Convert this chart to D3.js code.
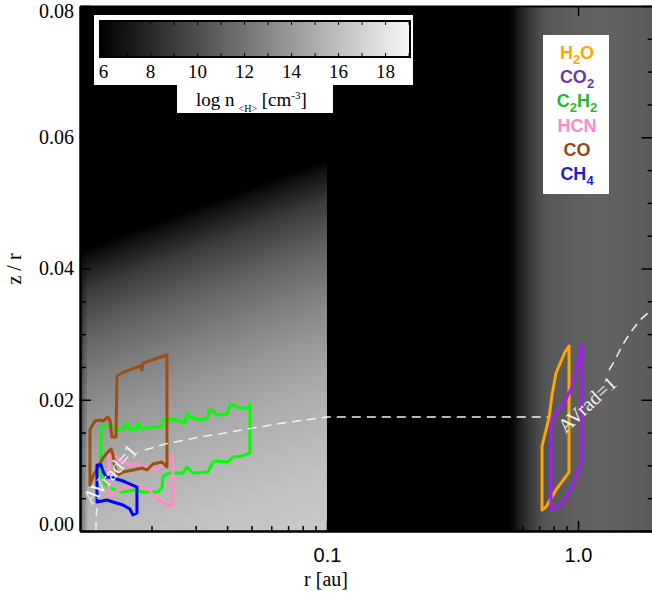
<!DOCTYPE html>
<html><head><meta charset="utf-8">
<script src="https://cdn.jsdelivr.net/npm/d3@7/dist/d3.min.js"></script>
<style>body{margin:0;background:#fff}svg{display:block}</style>
</head><body>
<svg id="c" width="652" height="599"></svg>
<script>
// ---------------- DATA ----------------
const rDomain = [0.01038, 2.0];
const zDomain = [0, 0.08];
const xMajorTicks = [0.1, 1.0];
const xMinorTicks = [0.02,0.03,0.04,0.05,0.06,0.07,0.08,0.09,0.2,0.3,0.4,0.5,0.6,0.7,0.8,0.9,2.0];
const yMajorTicks = [0, 0.02, 0.04, 0.06, 0.08];
const yMinorTicks = [0.005,0.01,0.015,0.025,0.03,0.035,0.045,0.05,0.055,0.065,0.07,0.075];
const cbarDomain = [5.87, 19.06];
const cbarTicks = [6, 8, 10, 12, 14, 16, 18];
const cbarMinorTicks = [7, 9, 11, 13, 15, 17, 19];
const diskInnerRegionEdge = 0.1;   // r where the inner disk density map ends
const outerRegionStart = 0.5;      // r where the outer density map begins

const species = ["H2O", "CO2", "C2H2", "HCN", "CO", "CH4"];
const legendColors = ["#FFA500", "#6E3A98", "#2DB52D", "#FF88CC", "#8E4A12", "#1E1ECF"];
const lineColors   = ["#FFA500", "#A020F0", "#00FF00", "#FF8EC8", "#9C5010", "#0000FF"];

// emitting-region contours [r (au), z/r]
const contourH2O = [[0.9207,0.02819],[0.8874,0.02728],[0.8174,0.02408],[0.7878,0.02072],[0.7664,0.01722],[0.7188,0.01295],[0.7188,0.00320],[0.7455,0.00366],[0.8174,0.00625],[0.9207,0.00899]];
const contourCO2 = [[1.0373,0.02834],[1.0,0.02575],[0.9465,0.02194],[0.8711,0.01920],[0.8099,0.01768],[0.7805,0.01661],[0.7805,0.00320],[0.8174,0.00350],[0.8711,0.00427],[0.9465,0.00670],[1.0092,0.00930],[1.0373,0.01082]];
const contourC2H2 = [[0.01258,0.01585],[0.01304,0.01600],[0.01392,0.01585],[0.01471,0.01539],[0.01540,0.01554],[0.01597,0.01646],[0.01641,0.01539],[0.01750,0.01554],[0.01766,0.01646],[0.01832,0.01554],[0.01971,0.01585],[0.02201,0.01585],[0.02221,0.01691],[0.02326,0.01707],[0.02527,0.01691],[0.02718,0.01646],[0.02768,0.01798],[0.02846,0.01737],[0.03119,0.01691],[0.03357,0.01722],[0.03388,0.01844],[0.03482,0.01844],[0.03645,0.01768],[0.03996,0.01783],[0.04107,0.01920],[0.04222,0.01920],[0.04501,0.01874],[0.04843,0.01874],[0.04933,0.01935],[0.04933,0.01189],[0.04627,0.01143],[0.04222,0.01128],[0.04033,0.01051],[0.03645,0.01067],[0.03514,0.01051],[0.03357,0.00899],[0.02925,0.00884],[0.02768,0.00975],[0.02669,0.00884],[0.02369,0.00884],[0.02262,0.00853],[0.02221,0.00823],[0.02201,0.00655],[0.02122,0.00594],[0.01832,0.00594],[0.01718,0.00625],[0.01526,0.00594],[0.01431,0.00625],[0.01341,0.00670],[0.01281,0.00777],[0.01258,0.00884]];
const contourHCN = [[0.01354,0.01158],[0.01457,0.01128],[0.01526,0.01051],[0.01672,0.01006],[0.01750,0.01036],[0.01799,0.00975],[0.01918,0.00990],[0.02008,0.00945],[0.02122,0.00960],[0.02221,0.01006],[0.02305,0.01112],[0.02435,0.01143],[0.02435,0.00381],[0.02305,0.00396],[0.02161,0.00457],[0.02026,0.00549],[0.01971,0.00625],[0.01766,0.00686],[0.01568,0.00655],[0.01457,0.00610],[0.01354,0.00518]];
const contourCO = [[0.01137,0.00701],[0.01137,0.01539],[0.01158,0.01600],[0.01191,0.01676],[0.01246,0.01691],[0.01281,0.01676],[0.01341,0.01737],[0.01366,0.01691],[0.01392,0.01432],[0.01444,0.01432],[0.01457,0.02362],[0.01526,0.02408],[0.01799,0.02514],[0.01832,0.02453],[0.01849,0.02560],[0.02305,0.02682],[0.02305,0.00975],[0.02201,0.01051],[0.02026,0.01021],[0.01918,0.00930],[0.01832,0.00960],[0.01687,0.00930],[0.01540,0.00899],[0.01471,0.00853],[0.01431,0.00960],[0.01405,0.01158],[0.01379,0.01250],[0.01341,0.01204],[0.01281,0.01112],[0.01235,0.00990],[0.01180,0.00869]];
const contourCH4 = [[0.01213,0.01006],[0.01258,0.01006],[0.01281,0.00914],[0.01317,0.00823],[0.01405,0.00808],[0.01540,0.00762],[0.01612,0.00731],[0.01750,0.00670],[0.01750,0.00274],[0.01687,0.00244],[0.01641,0.00335],[0.01540,0.00396],[0.01405,0.00442],[0.01329,0.00472],[0.01213,0.00442]];

// AV_rad = 1 line, broken where it is labelled
const avSegment1 = [[0.01202,0],[0.01202,0.00198],[0.01213,0.00350]];
const avSegment2 = [[0.01883,0.01234],[0.02262,0.01326],[0.02718,0.01387],[0.03119,0.01432],[0.03924,0.01493],[0.05071,0.01570],[0.07121,0.01661],[0.1,0.01737],[0.7594,0.01737]];
const avSegment3 = [[1.329,0.02453],[1.404,0.02606],[1.497,0.02819],[1.611,0.03017],[1.766,0.03215],[1.900,0.03322],[2.0,0.03383]];
const avLabels = [{r:0.01366, z:0.00869, angle:-49}, {r:1.086, z:0.0193, angle:-43}];
const avLabelText = "AVrad=1";

// ---------------- DRAW ----------------
const serif = "'Liberation Serif','Times New Roman',serif";
const sans = "'Liberation Sans',Arial,sans-serif";
const svg = d3.select("#c");
const x = d3.scaleLog().domain(rDomain).range([80, 653.6]);
const y = d3.scaleLinear().domain(zDomain).range([531, 6]);
const [X0, X1] = x.range(), [Y0, Y1] = y.range();

const defs = svg.append("defs");
defs.append("clipPath").attr("id","plotclip").append("rect")
  .attr("x",X0).attr("y",Y1).attr("width",X1-X0).attr("height",Y0-Y1);

// inner disk gradient (perpendicular to the disk surface)
const gIn = defs.append("linearGradient").attr("id","gin").attr("gradientUnits","userSpaceOnUse")
  .attr("x1",86).attr("y1",248).attr("x2",86+0.348*340).attr("y2",248+0.9375*340);
[[0,"#000"],[0.03,"#111"],[0.12,"#3c3c3c"],[0.24,"#626262"],[0.36,"#7e7e7e"],[0.48,"#959595"],[0.6,"#a8a8a8"],[0.74,"#b7b7b7"],[0.88,"#c2c2c2"],[1,"#c8c8c8"]]
  .forEach(([o,c])=>gIn.append("stop").attr("offset",o).attr("stop-color",c));
const gEdge = defs.append("linearGradient").attr("id","gedge");
gEdge.append("stop").attr("offset",0).attr("stop-color","#000").attr("stop-opacity",0.45);
gEdge.append("stop").attr("offset",1).attr("stop-color","#000").attr("stop-opacity",0);
const gOut = defs.append("linearGradient").attr("id","gout");
[[0,"#000"],[0.05,"#000"],[0.116,"#1e1e1e"],[0.183,"#3a3a3a"],[0.249,"#4e4e4e"],[0.315,"#585858"],[0.448,"#5e5e5e"],[0.646,"#636363"],[0.78,"#606060"],[1,"#5a5a5a"]]
  .forEach(([o,c])=>gOut.append("stop").attr("offset",o).attr("stop-color",c));
const gBar = defs.append("linearGradient").attr("id","gbar");
gBar.append("stop").attr("offset",0).attr("stop-color","#000");
gBar.append("stop").attr("offset",1).attr("stop-color","#f8f8f8");

const plot = svg.append("g").attr("clip-path","url(#plotclip)");
plot.append("rect").attr("x",X0).attr("y",Y1).attr("width",X1-X0).attr("height",Y0-Y1).attr("fill","#000");
plot.append("rect").attr("x",X0).attr("y",Y1).attr("width",x(diskInnerRegionEdge)-X0).attr("height",Y0-Y1).attr("fill","url(#gin)");
plot.append("rect").attr("x",X0).attr("y",Y1).attr("width",8).attr("height",Y0-Y1).attr("fill","url(#gedge)");
plot.append("rect").attr("x",x(outerRegionStart)).attr("y",Y1).attr("width",X1-x(outerRegionStart)).attr("height",Y0-Y1).attr("fill","url(#gout)");

// contours
const line = d3.line().x(d=>x(d[0])).y(d=>y(d[1]));
const closed = d3.line().x(d=>x(d[0])).y(d=>y(d[1])).curve(d3.curveLinearClosed);
const contours = [contourH2O, contourCO2, contourC2H2, contourHCN, contourCO, contourCH4];
const drawOrder = [2, 3, 4, 5, 0, 1];
drawOrder.forEach(i => {
  plot.append("path").attr("d", closed(contours[i])).attr("fill","none")
    .attr("stroke", lineColors[i]).attr("stroke-width",3).attr("stroke-linejoin","round");
});

// AV line
[avSegment1, avSegment2, avSegment3].forEach(seg => {
  plot.append("path").attr("d", line(seg)).attr("fill","none").attr("stroke","#f4f4f4")
    .attr("stroke-width",1.5).attr("stroke-dasharray","9,6");
});
avLabels.forEach(l => {
  plot.append("text").attr("transform",`translate(${x(l.r)},${y(l.z)}) rotate(${l.angle})`)
    .attr("text-anchor","middle").attr("dominant-baseline","central")
    .style("font-family",serif).style("font-size","20px").attr("fill","#f4f4f4").text(avLabelText);
});

// axes
function styleAxis(g){ g.select(".domain").attr("stroke","#000").attr("stroke-width",2); g.selectAll(".tick line").attr("stroke","#000").attr("stroke-width",1.5); }
svg.append("g").attr("transform",`translate(${X0},0)`).call(d3.axisLeft(y).tickValues(yMinorTicks).tickSize(-6).tickSizeOuter(0).tickFormat("")).call(styleAxis);
svg.append("g").attr("transform",`translate(${X0},0)`).call(d3.axisLeft(y).tickValues(yMajorTicks).tickSize(-11).tickSizeOuter(0).tickFormat("")).call(styleAxis);
svg.append("g").attr("transform",`translate(${X1},0)`).call(d3.axisRight(y).tickValues(yMinorTicks).tickSize(-6).tickSizeOuter(0).tickFormat("")).call(styleAxis);
svg.append("g").attr("transform",`translate(${X1},0)`).call(d3.axisRight(y).tickValues(yMajorTicks).tickSize(-12).tickSizeOuter(0).tickFormat("")).call(styleAxis);
svg.append("g").attr("transform",`translate(0,${Y0})`).call(d3.axisBottom(x).tickValues(xMinorTicks).tickSize(-5).tickSizeOuter(0).tickFormat("")).call(styleAxis);
svg.append("g").attr("transform",`translate(0,${Y0})`).call(d3.axisBottom(x).tickValues(xMajorTicks).tickSize(-10).tickSizeOuter(0).tickFormat("")).call(styleAxis);
svg.append("g").attr("transform",`translate(0,${Y1})`).call(d3.axisTop(x).tickValues(xMajorTicks).tickSize(-10).tickSizeOuter(0).tickFormat("")).call(styleAxis);

const yLab = svg.append("g").attr("transform",`translate(${X0},0)`)
  .call(d3.axisLeft(y).tickValues(yMajorTicks).tickSize(0).tickPadding(6).tickFormat(d3.format(".2f")));
yLab.select(".domain").remove();
yLab.selectAll("text").style("font-family",serif).style("font-size","20px").attr("fill","#000")
  .attr("dy", d => d === 0.08 ? "0.55em" : (d === 0 ? "-0.05em" : "0.32em"));
const xLab = svg.append("g").attr("transform",`translate(0,${Y0})`)
  .call(d3.axisBottom(x).tickValues(xMajorTicks).tickSize(0).tickPadding(17).tickFormat(d3.format(".1f")));
xLab.select(".domain").remove();
xLab.selectAll("text").style("font-family",sans).style("font-size","20px").attr("fill","#000");

svg.append("text").attr("x",326).attr("y",586).attr("text-anchor","middle")
  .style("font-family",serif).style("font-size","20px").text("r [au]");
svg.append("text").attr("transform","translate(21,269) rotate(-90)").attr("text-anchor","middle")
  .style("font-family",serif).style("font-size","20px").text("z / r");

// colorbar
const cb = svg.append("g");
cb.append("rect").attr("x",94).attr("y",15).attr("width",319).attr("height",70).attr("fill","#fff");
cb.append("rect").attr("x",177).attr("y",84).attr("width",156).attr("height",29).attr("fill","#fff");
const cx = d3.scaleLinear().domain(cbarDomain).range([100,410]);
cb.append("rect").attr("x",100).attr("y",21).attr("width",310).attr("height",36).attr("fill","url(#gbar)")
  .attr("stroke","#000").attr("stroke-width",2);
cb.append("g").attr("transform","translate(0,21)").call(d3.axisTop(cx).tickValues(cbarMinorTicks.concat(cbarTicks)).tickSize(-4).tickSizeOuter(0).tickFormat(""))
  .call(g=>{g.select(".domain").remove(); g.selectAll("line").attr("stroke","#000");});
cb.append("g").attr("transform","translate(0,57)").call(d3.axisBottom(cx).tickValues(cbarMinorTicks.concat(cbarTicks)).tickSize(-4).tickSizeOuter(0).tickFormat(""))
  .call(g=>{g.select(".domain").remove(); g.selectAll("line").attr("stroke","#000");});
const cbl = cb.append("g").attr("transform","translate(0,62)").call(d3.axisBottom(cx).tickValues(cbarTicks).tickSize(0).tickPadding(2).tickFormat(d3.format("d")));
cbl.select(".domain").remove();
cbl.selectAll("text").style("font-family",serif).style("font-size","19px").attr("fill","#000");
const cbt = cb.append("text").attr("x",196).attr("y",106).style("font-family",serif).style("font-size","19px");
cbt.append("tspan").text("log n");
cbt.append("tspan").style("font-size","10px").attr("dx",4).attr("dy",6).text("<H>");
cbt.append("tspan").attr("dy",-6).text("\u00a0[cm");
cbt.append("tspan").style("font-size","11px").attr("dy",-7).text("-3");
cbt.append("tspan").attr("dy",7).text("]");

// legend
const lg = svg.append("g");
lg.append("rect").attr("x",543).attr("y",35).attr("width",66).attr("height",159).attr("fill","#fff");
species.forEach((s,i) => {
  const t = lg.append("text").attr("x",577).attr("y",59+i*24.2).attr("text-anchor","middle")
    .style("font-family",sans).style("font-weight","bold").style("font-size","18px").attr("fill",legendColors[i]);
  let shifted = false;
  s.match(/[A-Za-z]+|\d+/g).forEach(p => {
    const isNum = /^\d+$/.test(p);
    const ts = t.append("tspan").text(p);
    if (isNum) { ts.style("font-size","13px"); if(!shifted){ts.attr("dy",5); shifted=true;} }
    else if (shifted) { ts.attr("dy",-5); shifted=false; }
  });
});
</script>
</body></html>
